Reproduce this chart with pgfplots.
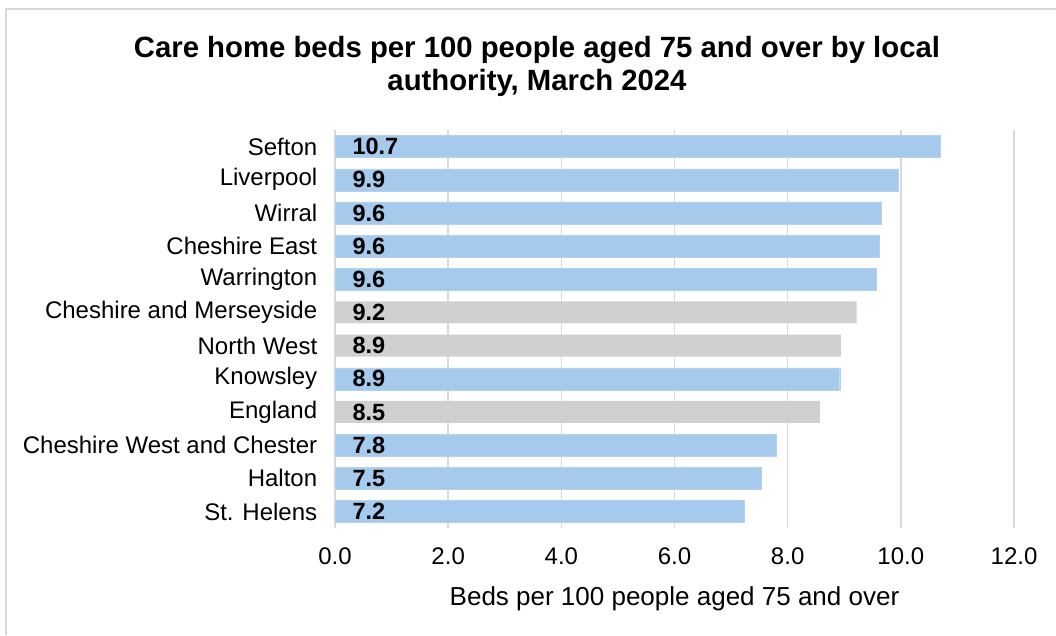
\documentclass[border=0pt]{standalone}
\usepackage{fontspec}
\setmainfont{Liberation Sans}
\usepackage{pgfplots}
\pgfplotsset{compat=1.18}
\definecolor{barblue}{RGB}{166,202,236}
\definecolor{bargray}{RGB}{208,208,208}
\definecolor{gridgray}{RGB}{217,217,217}
\newcommand{\tickfont}{\fontsize{24}{26}\selectfont}

\begin{document}
\begin{tikzpicture}
\path[use as bounding box] (0,0) rectangle (1056pt,635pt);
% chart area frame (cut at the top/right like the screenshot)
\draw[gridgray, line width=1.5pt] (6pt,0pt) -- (6pt,626pt) -- (1056pt,626pt);
\node[font=\bfseries\fontsize{29.3}{33}\selectfont, align=center] at (537pt,569pt)
  {Care home beds per 100 people aged 75 and over by local\\authority, March 2024};
\begin{axis}[
    at={(335pt,107pt)}, anchor=south west,
    scale only axis, width=679pt, height=398pt,
    xmin=0, xmax=12, ymin=-0.5, ymax=11.5,
    y dir=reverse,
    xtick={0,2,...,12},
    ytick={0,...,11},
    yticklabels={Sefton, Liverpool, Wirral, Cheshire East, Warrington,
      Cheshire and Merseyside, North West, Knowsley, England,
      Cheshire West and Chester, Halton, St. Helens},
    xmajorgrids=true,
    grid style={gridgray, line width=1.5pt},
    axis line style={draw=none},
    tick style={draw=none},
    ticklabel style={font=\tickfont},
    xticklabel style={/pgf/number format/.cd, fixed, fixed zerofill, precision=1, assume math mode=true},
    xticklabel shift=16pt,
    yticklabel style={xshift=-10pt},
    xlabel={Beds per 100 people aged 75 and over},
    xlabel style={font=\fontsize{26}{28}\selectfont, yshift=-15pt},
    xbar, bar width=22pt, bar shift=0pt,
]
\addplot[fill=barblue, draw=barblue!85!white] coordinates {
  (10.70,0) (9.95,1) (9.66,2) (9.62,3) (9.57,4) (8.92,7) (7.79,9) (7.53,10) (7.24,11)
};
\addplot[fill=bargray, draw=none] coordinates {
  (9.22,5) (8.94,6) (8.57,8)
};
\addplot[draw=none, xbar=0pt, fill=none, bar width=0pt,
  point meta=explicit symbolic,
  nodes near coords,
  nodes near coords style={anchor=west, xshift=14pt, font=\bfseries\fontsize{23.5}{26}\selectfont, text=black}]
  coordinates {
  (0,0) [10.7] (0,1) [9.9] (0,2) [9.6] (0,3) [9.6] (0,4) [9.6] (0,5) [9.2]
  (0,6) [8.9] (0,7) [8.9] (0,8) [8.5] (0,9) [7.8] (0,10) [7.5] (0,11) [7.2]
};
\end{axis}
\end{tikzpicture}
\end{document}
